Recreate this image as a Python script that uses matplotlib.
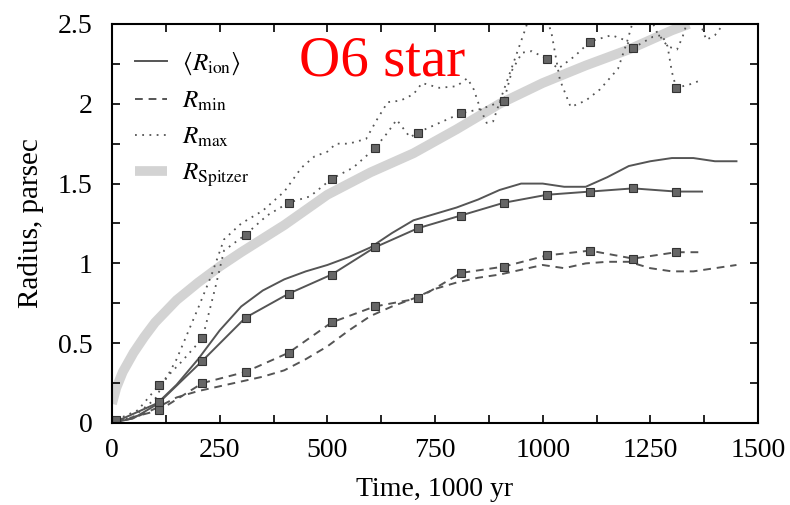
import numpy as np
import matplotlib.pyplot as plt
from matplotlib.ticker import MultipleLocator, FormatStrFormatter

plt.rcParams['font.family'] = ['Liberation Serif', 'DejaVu Serif']
plt.rcParams['mathtext.fontset'] = 'stix'

# snapshot times (kyr) where the second run was sampled
t_snap = [10, 110, 210, 310, 410, 510, 610, 710, 810, 910, 1010, 1110, 1210, 1310]

# run 1 (no markers)
t_a = [0, 50, 100, 150, 200, 250, 300, 350, 400, 450, 500, 550, 600, 650, 700,
       750, 800, 850, 900, 950, 1000, 1050, 1100, 1150, 1200, 1250, 1300, 1350, 1400, 1450]
rion_a = [0.0, 0.03, 0.11, 0.24, 0.40, 0.58, 0.73, 0.83, 0.90, 0.95, 0.99, 1.04, 1.10, 1.19, 1.27,
          1.31, 1.35, 1.40, 1.46, 1.50, 1.50, 1.48, 1.48, 1.54, 1.61, 1.64, 1.66, 1.66, 1.64, 1.64]
rmin_a = [0.0, 0.03, 0.09, 0.16, 0.20, 0.23, 0.26, 0.29, 0.33, 0.40, 0.48, 0.58, 0.67, 0.73, 0.78,
          0.84, 0.88, 0.91, 0.93, 0.96, 0.99, 0.97, 1.00, 1.01, 1.01, 0.97, 0.95, 0.95, 0.97, 0.99]
t_max_a = [0, 50, 100, 150, 200, 230, 260, 300, 350, 400, 440, 470, 500, 520, 550, 590, 615, 640,
           670, 700, 720, 760, 800, 825, 840, 855, 870, 885, 905, 930, 960, 975, 1000, 1020, 1040,
           1065, 1100, 1133, 1175, 1195, 1210, 1240, 1265, 1290, 1312, 1325, 1340, 1360, 1380,
           1400, 1420, 1440]
rmax_a = [0.0, 0.04, 0.15, 0.40, 0.72, 0.92, 1.15, 1.25, 1.33, 1.45, 1.60, 1.67, 1.70, 1.75, 1.75,
          1.78, 1.90, 2.01, 2.02, 2.06, 2.13, 2.10, 2.11, 2.16, 2.09, 1.97, 1.88, 1.89, 2.05, 2.24,
          2.47, 2.60, 2.60, 2.45, 2.15, 1.98, 2.02, 2.09, 2.22, 2.38, 2.52, 2.60, 2.45, 2.36, 2.34,
          2.42, 2.55, 2.55, 2.40, 2.43, 2.50, 2.60]

# run 2 (square markers at snapshots)
t_b = t_snap + [1370]
rion_b = [0.01, 0.13, 0.39, 0.66, 0.81, 0.93, 1.10, 1.22, 1.30, 1.38, 1.43, 1.45, 1.47, 1.45, 1.45]
rmin_b = [0.01, 0.08, 0.25, 0.32, 0.44, 0.63, 0.73, 0.78, 0.94, 0.98, 1.05, 1.08, 1.03, 1.07, 1.07]
t_max_b = [10, 60, 110, 160, 210, 240, 260, 310, 360, 410, 460, 510, 560, 610, 640, 661, 692, 710,
           760, 810, 860, 910, 929, 952, 975, 1010, 1036, 1075, 1110, 1160, 1190, 1210, 1256, 1277,
           1290, 1300, 1310, 1340, 1370]
rmax_b = [0.02, 0.08, 0.24, 0.38, 0.53, 0.85, 1.08, 1.18, 1.30, 1.38, 1.42, 1.53, 1.60, 1.72, 1.82,
          1.90, 1.79, 1.82, 1.88, 1.94, 1.97, 2.02, 2.21, 2.32, 2.33, 2.28, 2.22, 2.30, 2.39, 2.43,
          2.40, 2.35, 2.42, 2.43, 2.36, 2.20, 2.10, 2.12, 2.15]

# analytic Spitzer expansion
t_sp = [0, 10, 25, 50, 75, 100, 150, 200, 250, 300, 400, 500, 600, 700, 800, 900, 1000,
        1100, 1200, 1300, 1340]
r_sp = [0.12, 0.22, 0.32, 0.44, 0.54, 0.63, 0.77, 0.88, 0.98, 1.07, 1.24, 1.43, 1.57, 1.69,
        1.84, 2.00, 2.13, 2.24, 2.34, 2.46, 2.50]

col = '#555555'
mk = dict(marker='s', markersize=6, markerfacecolor='#666666', markeredgecolor='#333333',
          markeredgewidth=0.8)

fig = plt.figure(figsize=(7.9, 5.05), dpi=100)
ax = fig.add_axes([0.1418, 0.1624, 0.8177, 0.7901])

ax.plot(t_sp, r_sp, color='#d3d3d3', lw=7, solid_capstyle='butt', label=r'$R_{\mathrm{Spitzer}}$', zorder=1)

ax.plot(t_a, rion_a, color=col, lw=1.4, ls='-', label=r'$\langle R_{\mathrm{ion}}\rangle$')
ax.plot(t_a, rmin_a, color=col, lw=1.4, ls=(0, (4, 3)), label=r'$R_{\mathrm{min}}$')
ax.plot(t_max_a, rmax_a, color=col, lw=1.3, ls=(0, (1, 3)), label=r'$R_{\mathrm{max}}$')

ax.plot(t_b, rion_b, color=col, lw=1.4, ls='-', markevery=list(range(len(t_snap))), **mk)
ax.plot(t_b, rmin_b, color=col, lw=1.4, ls=(0, (4, 3)), markevery=list(range(len(t_snap))), **mk)
snap_idx = [i for i, t in enumerate(t_max_b) if t in t_snap]
ax.plot(t_max_b, rmax_b, color=col, lw=1.3, ls=(0, (1, 3)), markevery=snap_idx, **mk)

ax.set_xlim(0, 1500)
ax.set_ylim(0, 2.5)
ax.xaxis.set_major_locator(MultipleLocator(250))
ax.xaxis.set_minor_locator(MultipleLocator(125))
ax.yaxis.set_major_locator(MultipleLocator(0.5))
ax.yaxis.set_minor_locator(MultipleLocator(0.25))
ax.yaxis.set_major_formatter(FormatStrFormatter('%g'))
ax.tick_params(which='both', direction='in', top=True, right=True, length=6, width=1.2,
               labelsize=20)
ax.tick_params(axis='x', pad=11)
ax.tick_params(axis='y', pad=14)
for s in ax.spines.values():
    s.set_linewidth(1.5)

ax.set_xlabel('Time, 1000 yr', fontsize=20, labelpad=10)
ax.set_ylabel('Radius, parsec', fontsize=21, labelpad=10)

h, l = ax.get_legend_handles_labels()
order = [1, 2, 3, 0]
ax.legend([h[i] for i in order], [l[i] for i in order], loc='upper left', frameon=False,
          fontsize=18, handlelength=1.3, handletextpad=0.6, labelspacing=0.52,
          bbox_to_anchor=(0.0, 0.99))

ax.text(0.29, 0.905, 'O6 star', transform=ax.transAxes, color='red', fontsize=41,
        ha='left', va='center')

plt.savefig('out.png', dpi=100)
